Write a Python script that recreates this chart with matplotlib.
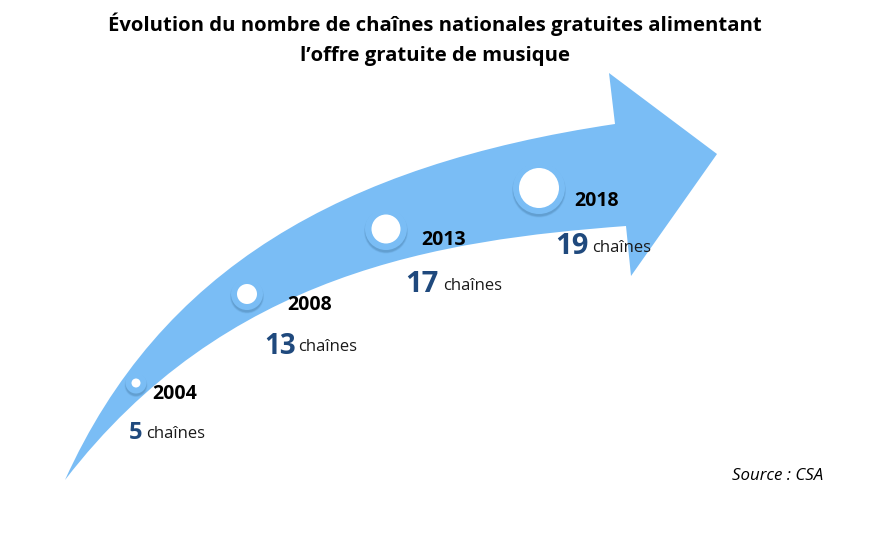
import matplotlib
matplotlib.use('Agg')
import matplotlib.pyplot as plt
from matplotlib.patches import Circle, PathPatch
from matplotlib.path import Path

plt.rcParams['font.family'] = ['Open Sans', 'DejaVu Sans']

years = ['2004', '2008', '2013', '2018']
chaines = [5, 13, 17, 19]
title_lines = ['Évolution du nombre de chaînes nationales gratuites alimentant',
               'l’offre gratuite de musique']

# one axes in pixel coords, y going down
fig = plt.figure(figsize=(8.82, 5.35), dpi=100)
ax = fig.add_axes([0, 0, 1, 1])
ax.set_xlim(0, 882)
ax.set_ylim(535, 0)
ax.axis('off')

blue = '#7abdf5'
verts = [(65, 480),
         (160, 270), (340, 165), (615, 124),
         (609, 73), (717, 154), (631, 276), (626, 226),
         (440, 240), (225, 272), (65, 480)]
codes = [Path.MOVETO, Path.CURVE4, Path.CURVE4, Path.CURVE4,
         Path.LINETO, Path.LINETO, Path.LINETO, Path.LINETO,
         Path.CURVE4, Path.CURVE4, Path.CURVE4]
ax.add_patch(PathPatch(Path(verts, codes), facecolor=blue, edgecolor='none'))

# circles on the arrow, soft shadow under each one
centers = [(136, 383), (247, 294), (386, 229), (539, 188)]
radii = [10.5, 16, 21, 26]
white_radii = [4.5, 10, 14.5, 20]
for (cx, cy), r, wr in zip(centers, radii, white_radii):
    for grow, alpha in zip([1.0, 0.4, -0.2], [0.1, 0.14, 0.2]):
        ax.add_patch(Circle((cx, cy + 2.5), r + grow, facecolor='#3f6f9c', edgecolor='none', alpha=alpha))
    ax.add_patch(Circle((cx, cy), r, facecolor=blue, edgecolor='none'))
    ax.add_patch(Circle((cx, cy), wr, facecolor='white', edgecolor='none'))

for line, y in zip(title_lines, [24, 56]):
    ax.text(434.5, y + 0.5, line, fontsize=14.6, fontweight='bold', ha='center', va='center', color='black')

year_pos = [(152.5, 394), (287.5, 305), (421.5, 240), (574.5, 201)]
for yr, (x, y) in zip(years, year_pos):
    ax.text(x, y, yr, fontsize=14, fontweight='bold', ha='left', va='center', color='black')

num_pos = [(129, 433), (264, 346), (405, 285), (555, 247)]
num_size = [17, 20, 21, 21]
word_pos = [146, 298, 443, 592]
for n, (x, y), s, wx in zip(chaines, num_pos, num_size, word_pos):
    ax.text(x, y, str(n), fontsize=s, fontweight='bold', ha='left', va='center', color='#1f497d')
    ax.text(wx, y + 1, 'chaînes', fontsize=12, ha='left', va='center', color='#1a1a1a')

ax.text(823, 476, 'Source : CSA', fontsize=12.2, style='italic', ha='right', va='center', color='black')

plt.savefig('out.png', dpi=100)
